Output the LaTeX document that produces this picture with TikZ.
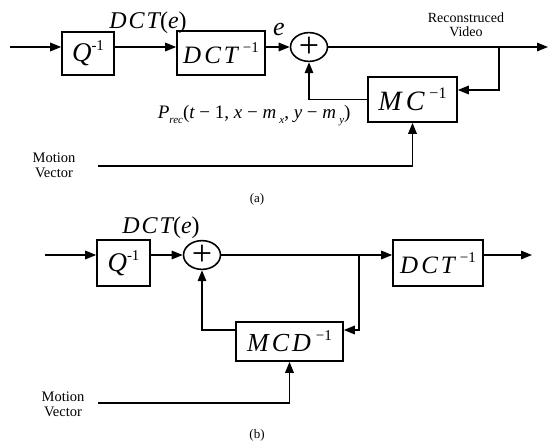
\documentclass[tikz,border=0pt]{standalone}
\usepackage{fontspec}
\setmainfont{Liberation Serif}
\usetikzlibrary{shapes.geometric,arrows.meta}
\newcommand{\fsz}[1]{\fontsize{#1}{#1}\selectfont}
\begin{document}
\begin{tikzpicture}[x=1pt,y=-1pt,line width=1.6pt,
  arr/.style={-{Triangle[length=11pt,width=8.5pt]}},
  blk/.style={draw,rectangle,inner sep=0pt},
  sumnode/.style={draw,ellipse,inner sep=0pt,minimum width=37pt,minimum height=26pt,font=\fsz{36}},
  lbl/.style={inner sep=0pt},
  small/.style={lbl,align=center,font=\fsz{14.5}\linespread{1}},
  captxt/.style={lbl,font=\fsz{13}}]
\useasboundingbox (0,0) rectangle (549,444);

% ---------------- (a) ----------------
\node[blk,minimum width=52pt,minimum height=43pt] (q1) at (88,53.5)
  {\fsz{27}\itshape Q\raisebox{0.42em}{\fsz{15}\upshape -1}};
\node[blk,minimum width=88pt,minimum height=44pt] (d1) at (221,53)
  {\fsz{25}\itshape D\kern3pt C\kern3pt T\kern5pt\raisebox{0.45em}{\fsz{15}\upshape −1}};
\node[sumnode] (s1) at (309,47) {+};
\node[blk,minimum width=89pt,minimum height=45pt] (mc1) at (412.5,99.5)
  {\fsz{28}\itshape M\kern4pt C\kern5pt\raisebox{0.42em}{\fsz{16}\upshape −1}};

\coordinate (in1) at (10,47);
\coordinate (out1) at (548,47);
\coordinate (br1) at (499,47);
\coordinate (fb1) at (499,90);
\coordinate (mv1) at (98,166);

\draw[arr] (in1) -- (q1.west |- in1);
\draw[arr] (q1.east |- in1) -- (d1.west |- in1);
\draw[arr] (d1.east |- in1) -- (s1.west);
\draw[arr] (s1.east) -- (out1);
\draw[arr] (br1) -- (fb1) -- (mc1.east |- fb1);
\draw[arr] (mc1.west) -| (s1.south);
\draw[arr] (mv1) -| (mc1.south);

\node[lbl] (dcte1) at (148,23)
  {\fsz{24}\itshape D\kern2pt C\kern2pt T\upshape(\itshape e\upshape)};
\node[lbl] (e1) at (279,30) {\fsz{26}\itshape e};
\node[small,font=\fsz{14}] (rv) at (466,25) {Reconstruced\\Video};
\node[lbl,anchor=base west] (prec) at (157,118)
  {\fsz{19}\itshape P\raisebox{-0.3em}{\fsz{11}rec}\upshape(\itshape t\upshape\ − 1, \itshape x\upshape\ − \itshape m\,\raisebox{-0.3em}{\fsz{11}x}\upshape, \itshape y\upshape\ − \itshape m\,\raisebox{-0.3em}{\fsz{11}y}\upshape)};
\node[small] (mvl1) at (54,165.5) {Motion\\Vector};
\node[captxt] (capa) at (257,199) {(a)};

% ---------------- (b) ----------------
\node[blk,minimum width=53pt,minimum height=46pt] (q2) at (123.5,263)
  {\fsz{27}\itshape Q\raisebox{0.42em}{\fsz{15}\upshape -1}};
\node[sumnode,minimum height=25pt] (s2) at (202,255) {+};
\node[blk,minimum width=90pt,minimum height=46pt] (d2) at (438,263)
  {\fsz{25}\itshape D\kern3pt C\kern3pt T\kern5pt\raisebox{0.45em}{\fsz{15}\upshape −1}};
\node[blk,minimum width=107pt,minimum height=39pt] (mcd) at (289.5,341.5)
  {\fsz{26}\itshape M\kern3pt C\kern3pt D\kern5pt\raisebox{0.42em}{\fsz{15}\upshape −1}};

\coordinate (in2) at (45,255);
\coordinate (out2) at (532,255);
\coordinate (br2) at (359,255);
\coordinate (fb2) at (359,330);
\coordinate (mv2) at (98,403);

\draw[arr] (in2) -- (q2.west |- in2);
\draw[arr] (q2.east |- in2) -- (s2.west);
\draw[arr] (s2.east) -- (d2.west |- in2);
\draw[arr] (d2.east |- in2) -- (out2);
\draw[arr] (br2) -- (fb2) -- (mcd.east |- fb2);
\draw[arr] (mcd.west |- fb2) -| (s2.south);
\draw[arr] (mv2) -| (mcd.south);

\node[lbl] (dcte2) at (161,228)
  {\fsz{24}\itshape D\kern2pt C\kern2pt T\upshape(\itshape e\upshape)};
\node[small] (mvl2) at (63,404.5) {Motion\\Vector};
\node[captxt] (capb) at (257,435) {(b)};
\end{tikzpicture}
\end{document}
